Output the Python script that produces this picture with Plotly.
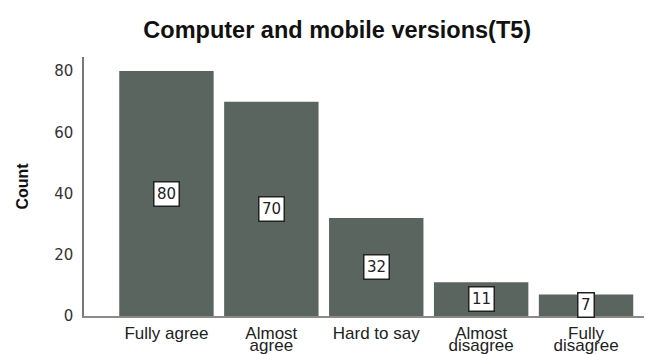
import plotly.graph_objects as go

categories = ["Fully agree", "Almost agree", "Hard to say", "Almost disagree", "Fully disagree"]
label_line1 = ["Fully agree", "Almost", "Hard to say", "Almost", "Fully"]
label_line2 = ["", "agree", "", "disagree", "disagree"]
counts = [80, 70, 32, 11, 7]
y_ticks = [0, 20, 40, 60, 80]

x_idx = list(range(len(categories)))
x_range = [-0.786, 4.705]

fig = go.Figure()
fig.add_trace(go.Bar(
    x=x_idx, y=counts,
    marker=dict(color="#5a6560", line=dict(width=0)),
    width=0.9,
    hoverinfo="skip",
))
# carrier for the second line of the category labels (draws nothing)
fig.add_trace(go.Scatter(
    x=x_idx, y=counts, xaxis="x2", mode="none", hoverinfo="skip", showlegend=False,
))

for xi, v in zip(x_idx, counts):
    fig.add_annotation(
        x=xi, y=v / 2, text=str(v), showarrow=False,
        font=dict(family="DejaVu Sans", size=15, color="#222"),
        bgcolor="white", bordercolor="#222", borderwidth=1.5, borderpad=2.5,
    )

tickfont_x = dict(family="Liberation Sans, Arial", size=17, color="#222")

fig.update_layout(
    width=652, height=354,
    margin=dict(l=76, r=0, t=49, b=46, autoexpand=False),
    paper_bgcolor="white", plot_bgcolor="white",
    showlegend=False,
    title=dict(text="<b>Computer and mobile versions(T5)</b>", x=0.505, xanchor="center",
               y=0.938, yanchor="middle",
               font=dict(family="Liberation Sans, Arial", size=23.5, color="#111")),
    xaxis=dict(
        range=x_range, tickmode="array", tickvals=x_idx, ticktext=label_line1,
        showline=True, linecolor="#8a8a8a", linewidth=1.5, ticks="", showgrid=False,
        zeroline=False, tickfont=tickfont_x, ticklabelstandoff=1, automargin=False,
    ),
    xaxis2=dict(
        range=x_range, overlaying="x", anchor="y", side="bottom",
        tickmode="array", tickvals=x_idx, ticktext=label_line2,
        showline=False, ticks="", showgrid=False, zeroline=False,
        tickfont=tickfont_x, ticklabelstandoff=17, automargin=False,
    ),
    yaxis=dict(
        range=[0, 84.6], tickmode="array", tickvals=y_ticks,
        showline=True, linecolor="#777777", linewidth=1.5, ticks="", showgrid=False,
        zeroline=False, ticklabelstandoff=6, automargin=False,
        tickfont=dict(family="DejaVu Sans", size=15, color="#333"),
        title=dict(text="<b>Count</b>", standoff=22,
                   font=dict(family="Liberation Sans, Arial", size=16, color="#111")),
    ),
)

fig.write_html("out.html")
